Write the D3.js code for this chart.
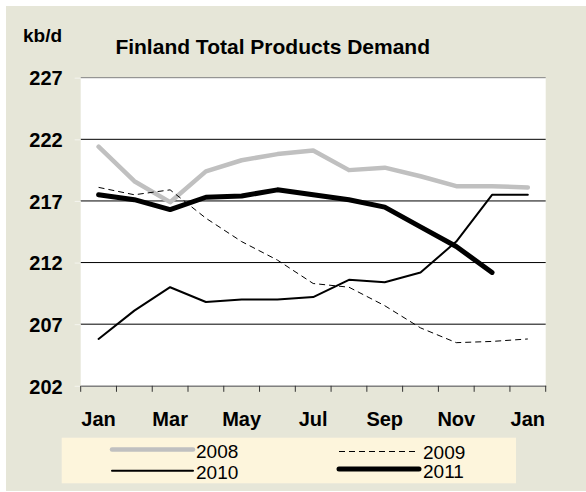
<!DOCTYPE html>
<html><head><meta charset="utf-8">
<script src="https://cdn.jsdelivr.net/npm/d3@7"></script>
<style>body{margin:0;background:#fff}svg{display:block;font-family:"Liberation Sans",Arial,sans-serif}</style>
</head><body><svg id="c" width="586" height="492"></svg>
<script>
const months = ["Jan","Feb","Mar","Apr","May","Jun","Jul","Aug","Sep","Oct","Nov","Dec","Jan"];
const yTicks = [202,207,212,217,222,227];
const s2008 = [221.4,218.6,216.9,219.4,220.3,220.8,221.1,219.5,219.7,219.0,218.2,218.2,218.1];
const s2009 = [218.1,217.5,217.9,215.6,213.7,212.2,210.3,210.0,208.5,206.7,205.5,205.6,205.8];
const s2010 = [205.8,208.1,210.0,208.8,209.0,209.0,209.2,210.6,210.4,211.2,213.7,217.5,217.5];
const s2011 = [217.5,217.1,216.3,217.3,217.4,217.9,217.5,217.1,216.5,214.9,213.3,211.2];
const seriesNames = ["2008","2009","2010","2011"];

const svg = d3.select("#c");
svg.append("rect").attr("x",6).attr("y",6).attr("width",580).attr("height",485).attr("fill","#E6E6D8");

const L=80.7,R=545.7,T=77.7,B=385.8;
const x = d3.scaleBand().domain(d3.range(months.length)).range([L,R]).paddingInner(0).paddingOuter(0);
const y = d3.scaleLinear().domain([202,227]).range([B,T]);
const cx = i => x(i)+x.bandwidth()/2;

svg.append("rect").attr("x",L).attr("y",T).attr("width",R-L).attr("height",B-T).attr("fill","#fff");

// gridlines
svg.append("g").selectAll("line").data(yTicks.filter(v=>v>202)).join("line")
  .attr("x1",L).attr("x2",R).attr("y1",d=>y(d)).attr("y2",d=>y(d))
  .attr("stroke",d=>d===227?"#808080":"#000").attr("stroke-width",1);

// y axis labels & light ticks
const ya = svg.append("g").attr("transform",`translate(${L},0)`).call(d3.axisLeft(y).tickValues(yTicks).tickSize(6).tickPadding(12));
ya.select(".domain").remove();
ya.selectAll(".tick line").attr("stroke","#f4f4ee");
ya.selectAll(".tick text").attr("font-size",20).attr("font-weight","bold").attr("fill","#000").attr("font-family","'Liberation Sans',Arial,sans-serif").attr("dy","0.36em");

// x axis
const xa = svg.append("g").attr("transform",`translate(0,${B})`)
  .call(d3.axisBottom(x).tickFormat(i=>i%2===0?months[i]:"").tickSize(0).tickPadding(26));
xa.select(".domain").attr("stroke","#808080").attr("stroke-width",1.5);
xa.selectAll(".tick text").attr("font-size",20).attr("font-weight","bold").attr("fill","#000").attr("font-family","'Liberation Sans',Arial,sans-serif");
const edges = d3.range(months.length).map(i=>x(i)).concat([R]);
svg.append("g").selectAll("line").data(edges).join("line")
  .attr("x1",d=>d).attr("x2",d=>d).attr("y1",B).attr("y2",B+6).attr("stroke","#333").attr("stroke-width",1);

const line = d3.line().x((d,i)=>cx(i)).y(d=>y(d));
const styles = {
  "2008":{stroke:"#C0C0C0",w:4.5,dash:null},
  "2009":{stroke:"#000",w:1,dash:"6,4"},
  "2010":{stroke:"#000",w:2,dash:null},
  "2011":{stroke:"#000",w:5,dash:null}
};
const data = {"2008":s2008,"2009":s2009,"2010":s2010,"2011":s2011};
seriesNames.forEach(n=>{
  svg.append("path").datum(data[n]).attr("d",line).attr("fill","none")
    .attr("stroke",styles[n].stroke).attr("stroke-width",styles[n].w)
    .attr("stroke-dasharray",styles[n].dash).attr("stroke-linejoin","round").attr("stroke-linecap",n==="2009"?"butt":"round");
});

// titles
svg.append("text").attr("x",272.7).attr("y",53.5).attr("text-anchor","middle").attr("font-size",21).attr("font-weight","bold").text("Finland Total Products Demand");
svg.append("text").attr("x",23).attr("y",41.7).attr("font-size",19).attr("font-weight","bold").text("kb/d");

// legend
svg.append("rect").attr("x",61.7).attr("y",437.7).attr("width",454.3).attr("height",45.6).attr("fill","#FDF5DC");
const leg = [
  {n:"2008",x1:112,x2:193,y:449.5,tx:196,ty:457.5},
  {n:"2009",x1:339,x2:419,y:451.5,tx:423,ty:458.5},
  {n:"2010",x1:112,x2:193,y:470.7,tx:196,ty:478.5},
  {n:"2011",x1:339,x2:419,y:469,tx:423,ty:477.5}
];
leg.forEach(l=>{
  const st=styles[l.n];
  svg.append("line").attr("x1",l.x1).attr("x2",l.x2).attr("y1",l.y).attr("y2",l.y)
    .attr("stroke",st.stroke).attr("stroke-width",st.w).attr("stroke-dasharray",st.dash).attr("stroke-linecap",l.n==="2009"?"butt":"round");
  svg.append("text").attr("x",l.tx).attr("y",l.ty).attr("font-size",19).text(l.n);
});
</script></body></html>
